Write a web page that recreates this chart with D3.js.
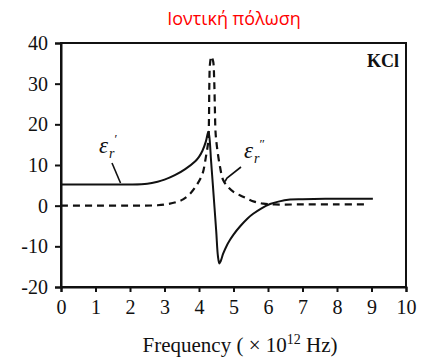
<!DOCTYPE html>
<html><head><meta charset="utf-8">
<script src="https://cdn.jsdelivr.net/npm/d3@7"></script>
<style>body{margin:0;background:#fff}svg{display:block}</style>
</head><body>
<script>
// Data
const xTicks = [0,1,2,3,4,5,6,7,8,9,10];
const yTicks = [-20,-10,0,10,20,30,40];
// ε'_r (solid)
const realX = [0,1,2,2.5,2.8,3.0,3.3,3.6,3.9,4.0,4.1,4.2,4.27,4.3,4.35,4.4,4.45,4.5,4.55,4.59,4.63,4.7,4.8,4.9,5.0,5.2,5.4,5.57,5.8,6.06,6.3,6.64,7,8,9.04];
const realY = [5.2,5.2,5.2,5.4,5.9,6.4,7.5,9.0,11,12,13.5,15.8,18.2,17,11,5.3,-0.5,-6.4,-12.5,-14.2,-13.6,-11.8,-9.9,-8.4,-7.1,-5,-3.2,-2.0,-0.7,0.4,1.0,1.5,1.6,1.7,1.7];
// ε''_r (dashed)
const imagX = [0,1,2,2.8,3.1,3.35,3.55,3.75,3.95,4.1,4.2,4.27,4.29,4.3,4.32,4.36,4.41,4.44,4.46,4.48,4.52,4.61,4.7,4.85,5.0,5.2,5.38,5.6,5.86,6.2,7,8,8.9];
const imagY = [0,0,0,0.1,0.4,0.9,1.6,3,5.3,7.8,12,16,22,30,35,36.7,35.5,31,24,18,14.5,9.5,6.3,4.5,3.4,2.5,1.8,1.0,0.5,0.3,0.3,0.3,0.3];
const titleText = "Ιοντική πόλωση";
const sampleLabel = "KCl";

const W = 424, H = 360;
const m = {left:61, right:406, top:43, bottom:287};
const svg = d3.select("body").append("svg").attr("width",W).attr("height",H);
const x = d3.scaleLinear().domain([0,10]).range([m.left,m.right]);
const y = d3.scaleLinear().domain([-20,40]).range([m.bottom,m.top]);
const serif = "'Liberation Serif','Times New Roman',serif";

// title
svg.append("text").attr("x",234).attr("y",25).attr("text-anchor","middle")
  .attr("font-family","'Open Sans',sans-serif").attr("font-size",18).attr("fill","#ff0000").text(titleText);

// frame
svg.append("rect").attr("x",m.left).attr("y",m.top).attr("width",m.right-m.left).attr("height",m.bottom-m.top)
  .attr("fill","none").attr("stroke","#111").attr("stroke-width",2);

const xAxis = svg.append("g").attr("transform",`translate(0,${m.bottom})`)
  .call(d3.axisBottom(x).tickValues(xTicks).tickSize(5).tickPadding(8).tickFormat(d3.format("d")));
const yAxis = svg.append("g").attr("transform",`translate(${m.left},0)`)
  .call(d3.axisLeft(y).tickValues(yTicks).tickSize(6).tickPadding(7).tickFormat(d=>d<0?"-"+Math.abs(d):d));
[xAxis,yAxis].forEach(a=>{
  a.attr("font-family",serif).attr("font-size",20);
  a.select(".domain").attr("stroke","#111").attr("stroke-width",2);
  a.selectAll(".tick line").attr("stroke","#111").attr("stroke-width",2);
  a.selectAll(".tick text").attr("font-family",serif).attr("font-size",20).attr("fill","#111");
});

const line = d3.line().x(d=>x(d[0])).y(d=>y(d[1])).curve(d3.curveCatmullRom.alpha(0.5));
svg.append("path").datum(d3.zip(imagX,imagY)).attr("d",line).attr("fill","none")
  .attr("stroke","#111").attr("stroke-width",2.2).attr("stroke-dasharray","7,5");
svg.append("path").datum(d3.zip(realX,realY)).attr("d",line).attr("fill","none")
  .attr("stroke","#111").attr("stroke-width",2);

// labels: ε with sub r and prime(s) above, as one text element
function epsLabel(px,py,primes){
  const t = svg.append("text").attr("x",px).attr("y",py).attr("font-family",serif).attr("fill","#111");
  t.append("tspan").attr("font-style","italic").attr("font-size",23).text("ε");
  t.append("tspan").attr("font-style","italic").attr("font-size",14).attr("dx",1).attr("dy",5).text("r");
  t.append("tspan").attr("font-size",13).attr("dx",0).attr("dy",-15).text(primes);
}
epsLabel(99,153,"′");
epsLabel(244,158,"″");
svg.append("line").attr("x1",112).attr("y1",163).attr("x2",120.5).attr("y2",183).attr("stroke","#111").attr("stroke-width",1.6);
svg.append("path").attr("d","M241,167 L227,178 L225,181.5").attr("fill","none").attr("stroke","#111").attr("stroke-width",1.6);

svg.append("text").attr("x",399).attr("y",67).attr("text-anchor","end").attr("font-family",serif)
  .attr("font-weight","bold").attr("font-size",18).attr("fill","#111").text(sampleLabel);

// x axis label
const xl = svg.append("text").attr("x",240).attr("y",352).attr("text-anchor","middle")
  .attr("font-family",serif).attr("font-size",21).attr("fill","#111");
xl.append("tspan").text("Frequency ( × 10");
xl.append("tspan").attr("dy",-8).attr("font-size",14).text("12");
xl.append("tspan").attr("dy",8).text(" Hz)");
</script>
</body></html>
